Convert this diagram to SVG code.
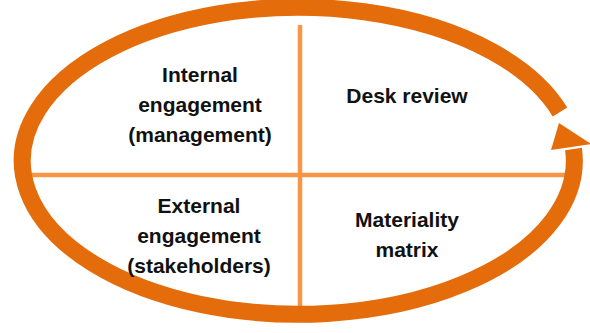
<svg xmlns="http://www.w3.org/2000/svg" width="590" height="333" viewBox="0 0 590 333">
<style>
.ring{fill:none;stroke:#E46C0A;stroke-width:17}
.head{fill:#E46C0A}
.div{stroke:#F79646;stroke-width:4.5;fill:none}
.lbl{font-family:"Liberation Sans",Arial,sans-serif;font-weight:bold;font-size:21px;fill:#111;text-anchor:middle}
</style>
<defs>
<clipPath id="cut">
<path clip-rule="evenodd" d="M0 0 H590 V333 H0 Z M530 123.5 L590 109.2 L590 138 L530 138 Z"/>
</clipPath>
</defs>
<rect width="590" height="333" fill="#fff"/>
<g id="connectors">
<line class="div" x1="300" y1="25" x2="300" y2="316"/>
<line class="div" x1="31" y1="175" x2="568" y2="175"/>
<path class="ring" clip-path="url(#cut)" d="M 560 112 A 276 153.5 0 1 0 573.5 149"/>
<polygon class="head" points="559,123 551,150 591,144"/>
</g>
<g id="internal">
<text class="lbl" x="200" y="82">Internal</text>
<text class="lbl" x="200" y="112">engagement</text>
<text class="lbl" x="200" y="142">(management)</text>
</g>
<g id="desk">
<text class="lbl" x="407" y="103">Desk review</text>
</g>
<g id="external">
<text class="lbl" x="199" y="213">External</text>
<text class="lbl" x="199" y="243">engagement</text>
<text class="lbl" x="199" y="273">(stakeholders)</text>
</g>
<g id="materiality">
<text class="lbl" x="407" y="227">Materiality</text>
<text class="lbl" x="407" y="257">matrix</text>
</g>
</svg>
